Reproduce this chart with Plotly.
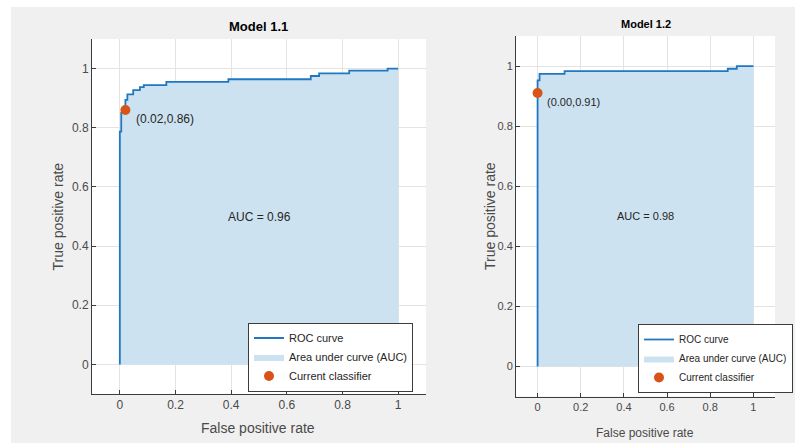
import plotly.graph_objects as go

# ---------------- data ----------------
# Model 1.1 ROC points (FPR, TPR)
fpr_11 = [0, 0, 0.005, 0.005, 0.02, 0.02, 0.027, 0.027, 0.048, 0.048, 0.072, 0.072,
          0.086, 0.086, 0.167, 0.167, 0.39, 0.39, 0.686, 0.686, 0.716, 0.716,
          0.824, 0.824, 0.962, 0.962, 1.0]
tpr_11 = [0, 0.787, 0.787, 0.85, 0.85, 0.894, 0.894, 0.913, 0.913, 0.927, 0.927, 0.937,
          0.937, 0.944, 0.944, 0.955, 0.955, 0.964, 0.964, 0.975, 0.975, 0.984,
          0.984, 0.993, 0.993, 1.0, 1.0]
# Model 1.2 ROC points (FPR, TPR)
fpr_12 = [0, 0, 0.009, 0.009, 0.125, 0.125, 0.881, 0.881, 0.923, 0.923, 1.0]
tpr_12 = [0, 0.952, 0.952, 0.974, 0.974, 0.983, 0.983, 0.991, 0.991, 1.0, 1.0]

clf_11 = [0.02, 0.86]
clf_12 = [0.00, 0.91]
auc_11 = 0.96
auc_12 = 0.98
titles = ["Model 1.1", "Model 1.2"]
tick_vals = [0, 0.2, 0.4, 0.6, 0.8, 1]
tick_text = ["0", "0.2", "0.4", "0.6", "0.8", "1"]

# ---------------- style ----------------
W, H = 795, 443
BLUE = "#1f78c1"
FILL = "#cce2f0"
ORANGE = "#d95319"
TXT = "#262626"
TICK = "#4a4a4a"
FONT = "Liberation Sans, Arial, sans-serif"

fig = go.Figure()


def add_panel(fpr, tpr, clf, xa, ya, legend):
    fig.add_trace(go.Scatter(x=fpr, y=tpr, mode="lines", fill="tozeroy",
                             fillcolor=FILL, line=dict(width=0, color=FILL),
                             name="Area under curve (AUC)", legend=legend, legendrank=2,
                             xaxis=xa, yaxis=ya, hoverinfo="skip"))
    fig.add_trace(go.Scatter(x=fpr, y=tpr, mode="lines",
                             line=dict(width=1.8, color=BLUE),
                             name="ROC curve", legend=legend, legendrank=1,
                             xaxis=xa, yaxis=ya))
    fig.add_trace(go.Scatter(x=[clf[0]], y=[clf[1]], mode="markers",
                             marker=dict(size=10, color=ORANGE),
                             name="Current classifier", legend=legend, legendrank=3,
                             xaxis=xa, yaxis=ya))


add_panel(fpr_11, tpr_11, clf_11, "x", "y", "legend")
add_panel(fpr_12, tpr_12, clf_12, "x2", "y2", "legend2")

axis_common = dict(range=[-0.1, 1.1], tickvals=tick_vals, ticktext=tick_text,
                   showgrid=True, gridcolor="#e3e3e3", gridwidth=1, zeroline=False,
                   showline=True, linecolor="#3c3c3c", linewidth=1, mirror=False,
                   ticks="inside", ticklen=4, tickcolor="#3c3c3c")

dom_l_x = [92 / W, 426 / W]
dom_l_y = [1 - 394 / H, 1 - 39 / H]
dom_r_x = [516 / W, 775 / W]
dom_r_y = [1 - 396.5 / H, 1 - 36 / H]

fig.update_layout(
    width=W, height=H,
    margin=dict(l=0, r=0, t=0, b=0),
    paper_bgcolor="#f0f0f0",
    plot_bgcolor="white",
    showlegend=True,
    xaxis=dict(domain=dom_l_x, anchor="y", tickfont=dict(family=FONT, size=12, color=TICK), **axis_common),
    yaxis=dict(domain=dom_l_y, anchor="x", tickfont=dict(family=FONT, size=12, color=TICK), **axis_common),
    xaxis2=dict(domain=dom_r_x, anchor="y2", tickfont=dict(family=FONT, size=11, color=TICK), **axis_common),
    yaxis2=dict(domain=dom_r_y, anchor="x2", tickfont=dict(family=FONT, size=11, color=TICK), **axis_common),
    legend=dict(x=248 / W, y=1 - 357 / H, xanchor="left", yanchor="middle",
                bgcolor="white", bordercolor="#3c3c3c", borderwidth=1,
                font=dict(family=FONT, size=11, color=TXT), itemwidth=30,
                tracegroupgap=0),
    legend2=dict(x=638 / W, y=1 - 358.5 / H, xanchor="left", yanchor="middle",
                 bgcolor="white", bordercolor="#3c3c3c", borderwidth=1,
                 font=dict(family=FONT, size=10, color=TXT), itemwidth=30,
                 tracegroupgap=0),
    shapes=[
        dict(type="rect", xref="paper", yref="paper", x0=0, x1=1, y0=1 - 7 / H, y1=1,
             fillcolor="white", line=dict(width=0), layer="below"),
        dict(type="rect", xref="paper", yref="paper", x0=0, x1=11 / W, y0=0, y1=1,
             fillcolor="white", line=dict(width=0), layer="below"),
    ],
)

ann = []
# titles
ann.append(dict(text="<b>" + titles[0] + "</b>", x=258 / W, y=1 - 26.5 / H, xref="paper", yref="paper",
                showarrow=False, font=dict(family=FONT, size=13, color="#000"), xanchor="center", yanchor="middle"))
ann.append(dict(text="<b>" + titles[1] + "</b>", x=646 / W, y=1 - 24 / H, xref="paper", yref="paper",
                showarrow=False, font=dict(family=FONT, size=11, color="#000"), xanchor="center", yanchor="middle"))
# axis titles
ann.append(dict(text="False positive rate", x=258 / W, y=1 - 428 / H, xref="paper", yref="paper",
                showarrow=False, font=dict(family=FONT, size=14, color=TICK), xanchor="center", yanchor="middle"))
ann.append(dict(text="True positive rate", x=58 / W, y=1 - 216.5 / H, xref="paper", yref="paper", textangle=-90,
                showarrow=False, font=dict(family=FONT, size=14, color=TICK), xanchor="center", yanchor="middle"))
ann.append(dict(text="False positive rate", x=645 / W, y=1 - 432.5 / H, xref="paper", yref="paper",
                showarrow=False, font=dict(family=FONT, size=12, color=TICK), xanchor="center", yanchor="middle"))
ann.append(dict(text="True positive rate", x=490 / W, y=1 - 216 / H, xref="paper", yref="paper", textangle=-90,
                showarrow=False, font=dict(family=FONT, size=14, color=TICK), xanchor="center", yanchor="middle"))
# AUC labels
ann.append(dict(text="AUC = %.2f" % auc_11, x=0.5, y=0.5, xref="x", yref="y", showarrow=False,
                font=dict(family=FONT, size=12, color=TXT)))
ann.append(dict(text="AUC = %.2f" % auc_12, x=0.5, y=0.5, xref="x2", yref="y2", showarrow=False,
                font=dict(family=FONT, size=11, color=TXT)))
# classifier labels
ann.append(dict(text="(%.2f,%.2f)" % (clf_11[0], clf_11[1]), x=clf_11[0], y=clf_11[1], xref="x", yref="y",
                showarrow=False, xanchor="left", yanchor="middle", xshift=9, yshift=-9,
                font=dict(family=FONT, size=12, color=TXT)))
ann.append(dict(text="(%.2f,%.2f)" % (clf_12[0], clf_12[1]), x=clf_12[0], y=clf_12[1], xref="x2", yref="y2",
                showarrow=False, xanchor="left", yanchor="middle", xshift=7, yshift=-9,
                font=dict(family=FONT, size=11, color=TXT)))
fig.update_layout(annotations=ann)

fig.write_html("out.html", config={"displayModeBar": False},
               post_script="document.body.style.margin='0';document.body.style.overflow='hidden';")
